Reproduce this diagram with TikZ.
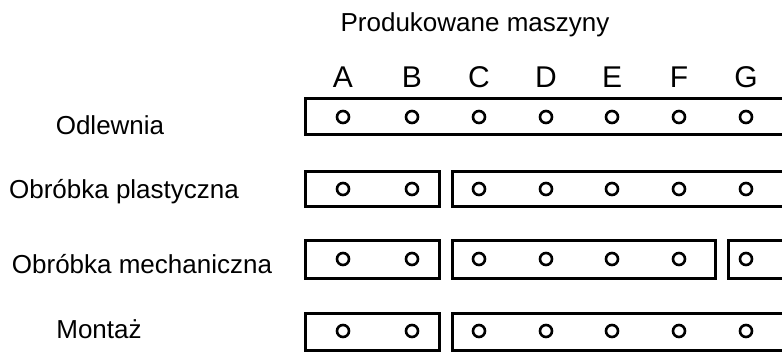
\documentclass[tikz,border=0pt]{standalone}
\usepackage{fontspec}
\setmainfont{Liberation Sans}
\usetikzlibrary{positioning,calc}

\begin{document}
\begin{tikzpicture}[
    x=0.5pt, y=-0.5pt,
    font=\fontsize{13}{15}\selectfont,
    rowlabel/.style={
        rectangle, draw=none, fill=none, inner sep=1pt
    },
    colhead/.style={
        rectangle, draw=none, inner sep=1pt, font=\fontsize{15}{17}\selectfont
    },
    machine/.style={
        circle, draw=black, line width=1.3pt, minimum size=6pt, inner sep=0pt
    },
    stage/.style={draw=black, line width=1.5pt}
]
\useasboundingbox (0,0) rectangle (782,353);

% Title and machine columns
\node (title) at (475,25) {Produkowane maszyny};
\node[colhead] (A) at (343,77) {A};
\node[colhead] (B) at (412,77) {B};
\node[colhead] (C) at (479,77) {C};
\node[colhead] (D) at (546,77) {D};
\node[colhead] (E) at (612,77) {E};
\node[colhead] (F) at (679,77) {F};
\node[colhead] (G) at (746,77) {G};

% Departments
\node[rowlabel] (odl) at (110,125) {Odlewnia};
\node[rowlabel] (pla) at (124,192) {Obróbka plastyczna};
\node[rowlabel] (mech) at (142,264) {Obróbka mechaniczna};
\node[rowlabel] (mon) at (99,329) {Montaż};

\coordinate (r1) at (0,117);
\coordinate (r2) at (0,189);
\coordinate (r3) at (0,259);
\coordinate (r4) at (0,331);

% ------------------------------- Groups --------------------------------------
\draw[stage] (782,99) -| (305,135) -- (782,135);

\draw[stage] (305,172) rectangle (439,206);
\draw[stage] (782,172) -| (452,206) -- (782,206);

\draw[stage] (305,240) rectangle (439,278);
\draw[stage] (452,240) rectangle (715,278);
\draw[stage] (782,240) -| (728,278) -- (782,278);

\draw[stage] (305,313) rectangle (439,350);
\draw[stage] (782,313) -| (452,350) -- (782,350);

% ------------------------------- Machines ------------------------------------
\node[machine] (A1) at (A |- r1) {}; \node[machine] (B1) at (B |- r1) {};
\node[machine] (C1) at (C |- r1) {}; \node[machine] (D1) at (D |- r1) {};
\node[machine] (E1) at (E |- r1) {}; \node[machine] (F1) at (F |- r1) {};
\node[machine] (G1) at (G |- r1) {};

\node[machine] (A2) at (A |- r2) {}; \node[machine] (B2) at (B |- r2) {};
\node[machine] (C2) at (C |- r2) {}; \node[machine] (D2) at (D |- r2) {};
\node[machine] (E2) at (E |- r2) {}; \node[machine] (F2) at (F |- r2) {};
\node[machine] (G2) at (G |- r2) {};

\node[machine] (A3) at (A |- r3) {}; \node[machine] (B3) at (B |- r3) {};
\node[machine] (C3) at (C |- r3) {}; \node[machine] (D3) at (D |- r3) {};
\node[machine] (E3) at (E |- r3) {}; \node[machine] (F3) at (F |- r3) {};
\node[machine] (G3) at (G |- r3) {};

\node[machine] (A4) at (A |- r4) {}; \node[machine] (B4) at (B |- r4) {};
\node[machine] (C4) at (C |- r4) {}; \node[machine] (D4) at (D |- r4) {};
\node[machine] (E4) at (E |- r4) {}; \node[machine] (F4) at (F |- r4) {};
\node[machine] (G4) at (G |- r4) {};

\end{tikzpicture}
\end{document}
